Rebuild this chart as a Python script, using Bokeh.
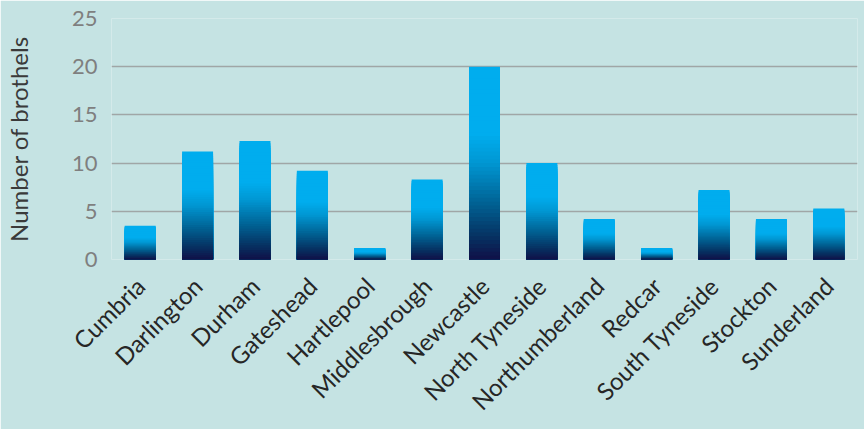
import math
from bokeh.plotting import figure
from bokeh.models import FactorRange, Range1d, FixedTicker, ColumnDataSource
from bokeh.embed import file_html
from bokeh.resources import INLINE

areas = ["Cumbria", "Darlington", "Durham", "Gateshead", "Hartlepool",
         "Middlesbrough", "Newcastle", "North Tyneside", "Northumberland",
         "Redcar", "South Tyneside", "Stockton", "Sunderland"]
brothels = [3.5, 11.2, 12.3, 9.2, 1.2, 8.3, 20.0, 10.0, 4.2, 1.2, 7.2, 4.2, 5.3]
y_ticks = [0, 5, 10, 15, 20, 25]

BG = "#C5E3E3"
FONT = "Lato"

# gradient stops (fraction of bar height from bottom, rgb)
stops = [(0.0, (16, 16, 72)), (0.12, (6, 50, 98)), (0.30, (0, 100, 150)),
         (0.50, (0, 150, 210)), (0.65, (0, 173, 238)), (1.0, (0, 173, 238))]


def grad(t):
    for (t0, c0), (t1, c1) in zip(stops[:-1], stops[1:]):
        if t0 <= t <= t1:
            f = (t - t0) / (t1 - t0) if t1 > t0 else 0
            r, g, b = (round(c0[k] + (c1[k] - c0[k]) * f) for k in range(3))
            return "#%02x%02x%02x" % (r, g, b)
    return "#%02x%02x%02x" % stops[-1][1]


# each bar is a stack of nested bars (tallest first) so the colour
# changes from light blue at the top to navy at the base
N = 50
xs, tops, cols = [], [], []
for i in range(N, 0, -1):
    for a, v in zip(areas, brothels):
        xs.append(a)
        tops.append(v * i / N)
        cols.append(grad((i - 0.5) / N))
src = ColumnDataSource(dict(x=xs, top=tops, color=cols))

p = figure(x_range=FactorRange(*areas), y_range=Range1d(0, 25),
           width=864, height=429, output_backend="svg", toolbar_location=None,
           min_border_left=105, min_border_right=7, min_border_top=18,
           min_border_bottom=170)
p.background_fill_color = BG
p.border_fill_color = BG
p.outline_line_color = None

p.vbar(x="x", bottom=0, top="top", width=0.54, fill_color="color",
       line_color=None, source=src)

p.xgrid.grid_line_color = None
p.ygrid.grid_line_color = "#A0A6A6"
p.ygrid.grid_line_width = 1.5
p.yaxis.ticker = FixedTicker(ticks=y_ticks)
p.yaxis.axis_line_color = None
p.yaxis.major_tick_line_color = None
p.yaxis.minor_tick_line_color = None
p.yaxis.major_label_text_font = FONT
p.yaxis.major_label_text_font_size = "22px"
p.yaxis.major_label_text_color = "#7F7F7F"
p.yaxis.major_label_standoff = 8
p.yaxis.axis_label = "Number of brothels"
p.yaxis.axis_label_text_font = FONT
p.yaxis.axis_label_text_font_style = "normal"
p.yaxis.axis_label_text_font_size = "24px"
p.yaxis.axis_label_text_color = "#3A3A3A"
p.yaxis.axis_label_standoff = 36

p.xaxis.axis_line_color = None
p.xaxis.major_tick_line_color = None
p.xaxis.minor_tick_line_color = None
p.xaxis.major_label_orientation = math.pi / 4
p.xaxis.major_label_text_font = FONT
p.xaxis.major_label_text_font_size = "24px"
p.xaxis.major_label_text_color = "#262626"
p.xaxis.major_label_standoff = 16

open("out.html", "w").write(file_html(p, INLINE))
